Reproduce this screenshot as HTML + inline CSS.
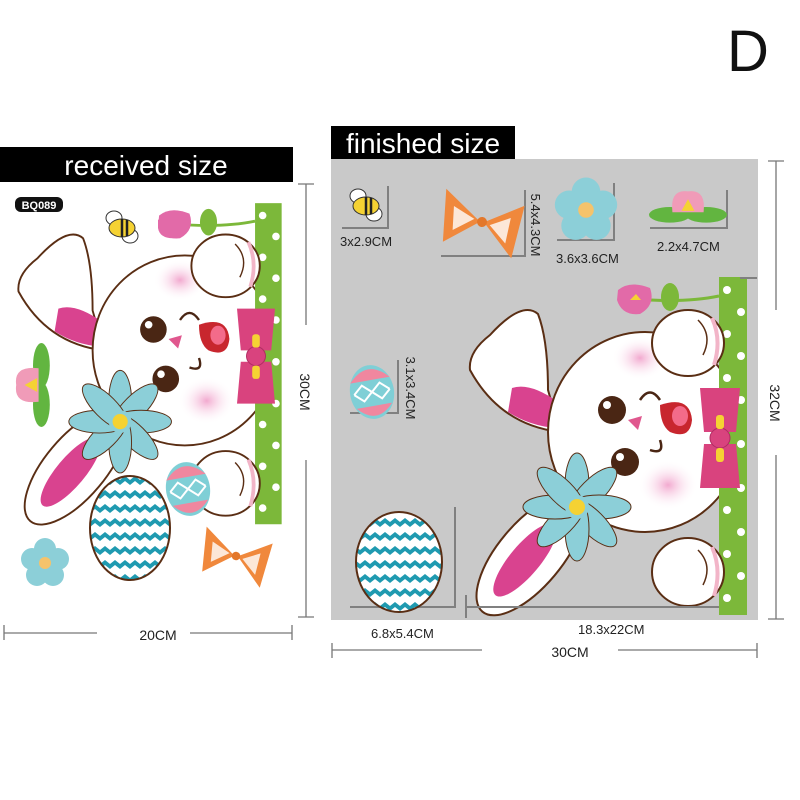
<!DOCTYPE html>
<html><head><meta charset="utf-8"><style>
html,body{margin:0;padding:0;background:#fff;width:800px;height:800px;overflow:hidden}
svg{display:block}
text{font-family:"Liberation Sans",sans-serif}
</style></head><body>
<svg width="800" height="800" viewBox="0 0 800 800" xmlns="http://www.w3.org/2000/svg">
<defs>
<radialGradient id="ck"><stop offset="0" stop-color="#f2a9cf"/><stop offset="1" stop-color="#fff" stop-opacity="0"/></radialGradient>
<pattern id="zz" width="20" height="14" patternUnits="userSpaceOnUse">
<rect width="20" height="14" fill="#fff"/><path d="M0 4 L5 0 L10 4 L15 0 L20 4 L20 9 L15 5 L10 9 L5 5 L0 9Z" fill="#1f9ab0"/></pattern>
<g id="bunny">
 <path d="M650 300 Q690 302 719 296" stroke="#7cb83a" stroke-width="3" fill="none"/>
 <ellipse cx="670" cy="297" rx="9" ry="14" fill="#7cb83a"/>
 <path d="M618 290 Q630 280 650 288 Q656 305 640 314 Q622 316 617 300Z" fill="#e26aa8"/>
 <path d="M630 300 l6 -6 l5 6z" fill="#f5d233"/>
 <path d="M560 432 Q500 425 470 370 Q468 352 490 335 Q522 300 538 314 Q548 340 548 390Z" fill="#fff" stroke="#5a2e14" stroke-width="2"/>
 <path d="M512 388 Q530 382 558 402 L556 428 Q530 426 508 412Z" fill="#d9438f"/>
 <ellipse cx="530" cy="555" rx="32" ry="74" transform="rotate(40 530 555)" fill="#fff" stroke="#5a2e14" stroke-width="2"/>
 <ellipse cx="525" cy="560" rx="15" ry="46" transform="rotate(40 525 560)" fill="#d9438f"/>
 <ellipse cx="645" cy="432" rx="97" ry="100" fill="#fff" stroke="#5a2e14" stroke-width="2"/>
 <ellipse cx="640" cy="358" rx="28" ry="22" fill="url(#ck)"/>
 <ellipse cx="668" cy="485" rx="30" ry="25" fill="url(#ck)"/>
 <rect x="719" y="277" width="28" height="338" fill="#7cb83a"/>
 <g fill="#fff"><circle cx="727" cy="290" r="4"/><circle cx="741" cy="312" r="4"/><circle cx="727" cy="334" r="4"/><circle cx="741" cy="356" r="4"/><circle cx="727" cy="378" r="4"/><circle cx="741" cy="400" r="4"/><circle cx="727" cy="422" r="4"/><circle cx="741" cy="444" r="4"/><circle cx="727" cy="466" r="4"/><circle cx="741" cy="488" r="4"/><circle cx="727" cy="510" r="4"/><circle cx="741" cy="532" r="4"/><circle cx="727" cy="554" r="4"/><circle cx="741" cy="576" r="4"/><circle cx="727" cy="598" r="4"/></g>
 <ellipse cx="688" cy="343" rx="36" ry="33" fill="#fff" stroke="#5a2e14" stroke-width="2"/>
 <ellipse cx="688" cy="572" rx="36" ry="34" fill="#fff" stroke="#5a2e14" stroke-width="2"/>
 <path d="M712 318 Q722 340 714 365 M712 547 Q722 570 714 596" stroke="#f2b5c8" stroke-width="4" fill="none"/>
 <path d="M698 320 Q713 335 703 355 M698 550 Q713 565 703 585" stroke="#5a2e14" stroke-width="1.5" fill="none"/>
 <circle cx="612" cy="410" r="14" fill="#4a2614"/><circle cx="607" cy="405" r="4" fill="#fff"/>
 <circle cx="625" cy="462" r="14" fill="#4a2614"/><circle cx="620" cy="457" r="4" fill="#fff"/>
 <path d="M640 400 Q650 385 660 400 M650 450 Q665 455 660 440" stroke="#4a2614" stroke-width="2.5" fill="none"/>
 <path d="M628 420 l10 10 l4 -14z" fill="#e0578e"/>
 <path d="M660 405 Q690 395 692 420 Q690 440 670 432 Q660 425 660 405Z" fill="#c8262e"/>
 <ellipse cx="680" cy="416" rx="8" ry="10" fill="#f36b8a"/>
 <path d="M700 388 L740 388 L736 432 L704 432Z M700 488 L740 488 L736 444 L704 444Z" fill="#d9437e"/>
 <circle cx="720" cy="438" r="10" fill="#d9437e" stroke="#b02c62"/>
 <rect x="716" y="415" width="8" height="14" rx="3" fill="#f5d233"/><rect x="716" y="448" width="8" height="14" rx="3" fill="#f5d233"/>
 <g transform="translate(577,507)" fill="#8ccfd8" stroke="#5a2e14" stroke-width="1">
  <ellipse rx="12" ry="32" cy="-22" /><ellipse rx="12" ry="32" cy="-22" transform="rotate(45)"/><ellipse rx="12" ry="32" cy="-22" transform="rotate(90)"/><ellipse rx="12" ry="32" cy="-22" transform="rotate(135)"/><ellipse rx="12" ry="32" cy="-22" transform="rotate(180)"/><ellipse rx="12" ry="32" cy="-22" transform="rotate(225)"/><ellipse rx="12" ry="32" cy="-22" transform="rotate(270)"/><ellipse rx="12" ry="32" cy="-22" transform="rotate(315)"/>
  <circle r="12" stroke="none"/><circle r="8" fill="#f5d233" stroke="none"/>
 </g>
</g>
<g id="bee"><ellipse cx="-8" cy="-10" rx="8" ry="7" fill="#fff" stroke="#333"/><ellipse cx="8" cy="8" rx="8" ry="7" fill="#fff" stroke="#333"/><ellipse cx="0" cy="0" rx="13" ry="9" fill="#f5d233" stroke="#333"/><path d="M0 -9 v18 M5 -8 v16" stroke="#222" stroke-width="2.5"/></g>
<g id="obow"><path d="M-40 -28 L-2 0 L-36 25Z M40 -22 L2 0 L34 32Z" fill="#f0883c"/><path d="M-30 -12 L-8 -2 L-28 12Z M28 -8 L8 2 L26 18Z" fill="#fff" opacity=".8"/><circle r="5" fill="#e3772a"/></g>
<g id="bflow" fill="#8ccfd8"><circle cx="0" cy="-14" r="11"/><circle cx="13" cy="-4" r="11"/><circle cx="8" cy="12" r="11"/><circle cx="-8" cy="12" r="11"/><circle cx="-13" cy="-4" r="11"/><circle r="6" fill="#f5c36b"/></g>
<g id="lotus"><ellipse cx="-14" cy="6" rx="16" ry="6" fill="#62b540"/><ellipse cx="14" cy="6" rx="16" ry="6" fill="#62b540"/><path d="M-12 4 Q-14 -14 0 -12 Q14 -14 12 4Z" fill="#f09bb8"/><path d="M-5 3 L0 -6 L5 3Z" fill="#f5d233"/></g>
<g id="segg"><ellipse rx="22" ry="27" fill="#7fcfd6"/><path d="M-20 -12 Q0 -34 20 -12Z M-18 14 Q0 34 18 14Z" fill="#f0879f"/><path d="M-18 0 L-9 -8 L0 0 L9 -8 L18 0 M-18 0 L-9 8 L0 0 L9 8 L18 0" stroke="#fff" stroke-width="2" fill="none"/></g>
</defs>

<text x="748" y="71" font-size="58" text-anchor="middle" fill="#111">D</text>

<rect x="0" y="147" width="293" height="35" fill="#000"/>
<text x="146" y="175" font-size="28" fill="#fff" text-anchor="middle">received size</text>
<use href="#bunny" transform="translate(-428,-60) scale(0.95)"/>
<rect x="15" y="197" width="48" height="15" rx="6" fill="#111"/>
<text x="39" y="209" font-size="11" font-weight="bold" fill="#fff" text-anchor="middle">BQ089</text>
<use href="#bee" transform="translate(122,228)"/>
<path d="M158 220 Q168 210 188 217 Q192 232 178 238 Q160 240 158 228Z" fill="#e26aa8"/>
<use href="#lotus" transform="translate(33,385) rotate(-90) scale(1.4)"/>
<ellipse cx="130" cy="528" rx="40" ry="52" fill="url(#zz)" stroke="#5a2e14" stroke-width="2"/>
<use href="#segg" transform="translate(188,489) rotate(-10)"/>
<use href="#bflow" transform="translate(45,563)"/>
<use href="#obow" transform="translate(236,556) rotate(10) scale(0.85)"/>
<g stroke="#777" stroke-width="1.3">
<path d="M298 184 H314 M306 184 V325 M306 460 V617 M298 617 H314"/>
<path d="M4 625 V640 M4 633 H97 M190 633 H292 M292 625 V640"/>
</g>
<text x="300" y="392" font-size="14" fill="#222" transform="rotate(90 300 392)" text-anchor="middle">30CM</text>
<text x="158" y="640" font-size="14" fill="#222" text-anchor="middle">20CM</text>

<rect x="331" y="159" width="427" height="461" fill="#c9c9c9"/>
<rect x="331" y="126" width="184" height="33" fill="#000"/>
<text x="423" y="153" font-size="28" fill="#fff" text-anchor="middle">finished size</text>
<use href="#bunny"/>
<g stroke="#808080" stroke-width="2" fill="none">
<path d="M388 186 V228 H342"/>
<path d="M525 190 V256 H441"/>
<path d="M614 183 V240 H557"/>
<path d="M727 190 V228 H650"/>
<path d="M398 360 V413 H350"/>
<path d="M455 507 V607 H350"/>
<path d="M466 595 V618 M466 607 H719"/>
<path d="M740 278 H757"/>
</g>
<use href="#bee" transform="translate(366,206)"/>
<use href="#obow" transform="translate(482,222) rotate(8)"/>
<use href="#bflow" transform="translate(586,210) scale(1.3)"/>
<use href="#lotus" transform="translate(688,207) scale(1.3)"/>
<use href="#segg" transform="translate(372,392) rotate(-10)"/>
<ellipse cx="399" cy="562" rx="43" ry="50" fill="url(#zz)" stroke="#5a2e14" stroke-width="2"/>
<g font-size="13" fill="#222">
<text x="340" y="246">3x2.9CM</text>
<text x="556" y="263">3.6x3.6CM</text>
<text x="657" y="251">2.2x4.7CM</text>
<text x="371" y="638">6.8x5.4CM</text>
<text x="578" y="634">18.3x22CM</text>
<text x="531" y="225" transform="rotate(90 531 225)" text-anchor="middle">5.4x4.3CM</text>
<text x="406" y="388" transform="rotate(90 406 388)" text-anchor="middle">3.1x3.4CM</text>
</g>
<g stroke="#777" stroke-width="1.3">
<path d="M768 161 H784 M776 161 V310 M776 455 V619 M768 619 H784"/>
<path d="M332 643 V658 M332 650 H482 M618 650 H757 M757 643 V658"/>
</g>
<text x="770" y="403" font-size="14" fill="#222" transform="rotate(90 770 403)" text-anchor="middle">32CM</text>
<text x="570" y="657" font-size="14" fill="#222" text-anchor="middle">30CM</text>
</svg>
</body></html>
